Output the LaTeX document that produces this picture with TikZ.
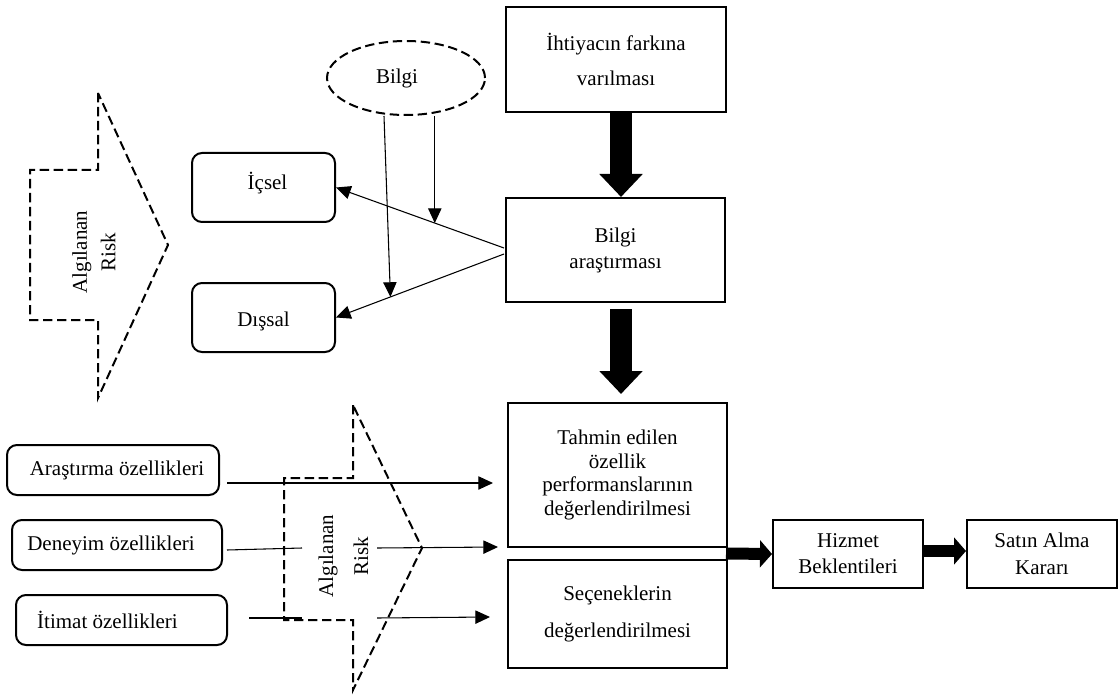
\documentclass[tikz,border=0pt]{standalone}
\usepackage{fontspec}
\setmainfont{Liberation Serif}
\usetikzlibrary{arrows.meta,shapes.geometric,calc}

% text size with a chosen line distance
\newcommand\txt[1]{\fontsize{15.75}{#1}\selectfont}
% move a one-line label inside its box without changing the box
\newcommand\nudge[3]{\hspace*{#1}\raisebox{#2}[\height][\depth]{#3}\hspace*{-#1}}

\begin{document}
\begin{tikzpicture}[x=0.75pt,y=-0.75pt,
  stepbox/.style={draw,line width=1.5pt,inner sep=0pt,align=center},
  roundbox/.style={stepbox,rounded corners=7.5pt},
  riskdash/.style={line width=1.5pt,dash pattern=on 7pt off 3.5pt},
  thinarrow/.style={line width=0.8pt,-{Triangle[length=11pt,width=10pt]}},
  thinline/.style={line width=0.8pt},
  fatdown/.style={line width=16.5pt,-{Triangle[length=17.25pt,width=31.5pt]}},
  fatright/.style={line width=9pt,-{Triangle[length=9pt,width=20pt]}},
  risklabel/.style={rotate=90,align=center,inner sep=0pt}]
\useasboundingbox (0,0) rectangle (1120,695);

% main stages
\node[stepbox,minimum width=165pt,minimum height=78.75pt,font=\txt{26.25pt}] (need) at (616,59.5) {İhtiyacın farkına\\varılması};
\node[stepbox,minimum width=164.25pt,minimum height=78pt,font=\txt{19.5pt}] (search) at (615.5,250) {Bilgi\\araştırması};
\node[stepbox,minimum width=164.25pt,minimum height=108pt,font=\txt{17.6pt}] (tahmin) at (617.5,475) {Tahmin edilen\\özellik\\performanslarının\\değerlendirilmesi};
\node[stepbox,minimum width=164.25pt,minimum height=81pt,font=\txt{27.75pt}] (secenek) at (617.5,614) {Seçeneklerin\\değerlendirilmesi};
\node[stepbox,minimum width=112.5pt,minimum height=51pt,font=\txt{19.5pt}] (hizmet) at (848,554) {Hizmet\\Beklentileri};
\node[stepbox,minimum width=112.5pt,minimum height=51pt,font=\txt{20.25pt}] (satin) at (1042,554) {Satın Alma\\Kararı};

% information sources
\node[draw,ellipse,riskdash,minimum width=118.5pt,minimum height=55.5pt,inner sep=0pt,font=\txt{19pt}] (bilgi) at (406,78) {\nudge{-6.75pt}{0pt}{Bilgi}};
\node[roundbox,minimum width=107.25pt,minimum height=51.75pt,font=\txt{19pt}] (icsel) at (263.5,187.5) {\nudge{3pt}{3.5pt}{İçsel}};
\node[roundbox,minimum width=107.25pt,minimum height=51.75pt,font=\txt{19pt}] (dissal) at (263.5,317.5) {\nudge{0pt}{-3pt}{Dışsal}};

% attribute boxes
\node[roundbox,minimum width=159pt,minimum height=37.5pt,font=\txt{19pt}] (arast) at (113,470) {\nudge{3pt}{0pt}{Araştırma özellikleri}};
\node[roundbox,minimum width=157.5pt,minimum height=37.5pt,font=\txt{19pt}] (deney) at (117,545) {\nudge{-4.5pt}{0pt}{Deneyim özellikleri}};
\node[roundbox,minimum width=158.25pt,minimum height=37.5pt,font=\txt{19pt}] (itimat) at (121.5,620) {\nudge{-10.5pt}{0pt}{İtimat özellikleri}};

% perceived risk arrows (dashed outlines)
\draw[riskdash] (98,93) -- (98,170) -- (30,170) -- (30,320) -- (98,320) -- (98,398) -- (168,245) -- cycle;
\node[risklabel,font=\txt{21.4pt}] (risk1) at (94,252) {Algılanan\\Risk};
\draw[riskdash] (353,405) -- (353,478) -- (284,478) -- (284,620) -- (353,620) -- (353,690) -- (422,548) -- cycle;
\node[risklabel,font=\txt{26.25pt}] (risk2) at (343.5,556) {Algılanan\\Risk};

% process flow
\draw[fatdown] ($(need.south)+(5,0)$) -- ($(search.north)+(5.5,0)$);
\draw[fatdown] ($(search.south)+(5.5,6)$) -- ($(tahmin.north)+(3.5,-8)$);
\draw[fatright] ($(tahmin.south east)!0.5!(secenek.north east)+(-2,0)$) -- (hizmet.west);
\draw[fatright] ($(hizmet.east)+(0,-3)$) -- ($(satin.west)+(0,-3)$);

% information search branches
\coordinate (s1) at ($(search.west)+(-1,-2)$);
\coordinate (s2) at ($(search.west)+(-1,4)$);
\draw[thinarrow] (s1) -- (icsel.east);
\draw[thinarrow] (s2) -- (dissal.east);
\path (s1) -- (icsel.east) coordinate[pos=0.412] (m1);
\path (s2) -- (dissal.east) coordinate[pos=0.676] (m2);
\draw[thinarrow] (m1 |- bilgi.south) -- (m1);
\coordinate (b2) at (384,116);
\draw[thinarrow] (b2) -- (m2);

% attribute inputs
\coordinate (a1) at (227,483);
\coordinate (a2) at (493,483);
\coordinate (d1) at (227,550);
\coordinate (d2) at (302,548);
\coordinate (d3) at (377,548);
\coordinate (d4) at (498,547);
\coordinate (i1) at (249,618);
\coordinate (i2) at (302,618);
\coordinate (i3) at (377,618);
\coordinate (i4) at (490,617);
\draw[thinarrow] (a1) -- (a2);
\draw[thinline] (d1) -- (d2);
\draw[thinarrow] (d3) -- (d4);
\draw[thinline] (i1) -- (i2);
\draw[thinarrow] (i3) -- (i4);
\end{tikzpicture}
\end{document}
